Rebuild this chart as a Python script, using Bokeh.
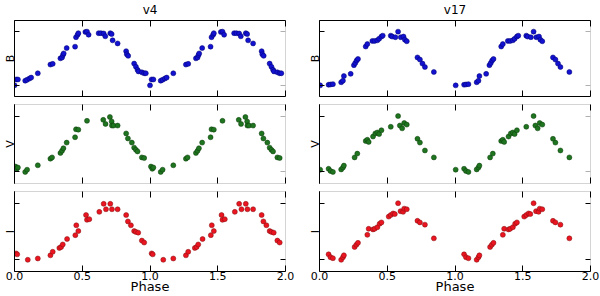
import numpy as np
from bokeh.plotting import figure
from bokeh.models import Range1d, LinearAxis, FixedTicker, PrintfTickFormatter, CustomLabelingPolicy
from bokeh.layouts import row, column
from bokeh.embed import file_html
from bokeh.resources import INLINE

FONT = "DejaVu Sans"

# ---------------- data (phase in [0,1), relative brightness: 0 = faint tick, 1 = bright tick)
v4_B_phase = [0.0, 0.012, 0.025, 0.079, 0.093, 0.11, 0.123, 0.172, 0.265, 0.282, 0.339, 0.351,
              0.358, 0.363, 0.385, 0.447, 0.454, 0.466, 0.471, 0.523, 0.535, 0.547, 0.621, 0.638,
              0.658, 0.67, 0.707, 0.717, 0.724, 0.761, 0.824, 0.829, 0.839, 0.883, 0.896, 0.908,
              0.915, 0.94, 0.957, 0.969]
v4_B = [0.0, 0.11, 0.11, 0.087, 0.104, 0.127, 0.145, 0.225, 0.387, 0.40, 0.503, 0.52,
        0.566, 0.595, 0.694, 0.72, 0.896, 0.942, 0.971, 0.994, 1.0, 0.942, 0.971, 0.971,
        0.965, 0.913, 0.971, 0.954, 0.838, 0.78, 0.636, 0.578, 0.549, 0.405, 0.347, 0.289,
        0.26, 0.243, 0.225, 0.225]

v4_V_phase = [0.007, 0.017, 0.025, 0.079, 0.093, 0.172, 0.265, 0.277, 0.339, 0.351, 0.361, 0.385,
              0.447, 0.454, 0.471, 0.535, 0.655, 0.672, 0.704, 0.717, 0.719, 0.731, 0.761, 0.824,
              0.837, 0.866, 0.883, 0.896, 0.908, 0.94, 0.957]
v4_V = [0.096, 0.056, 0.079, 0.0, 0.04, 0.119, 0.237, 0.26, 0.339, 0.379, 0.424, 0.525,
        0.621, 0.763, 0.757, 0.915, 0.932, 0.859, 0.983, 0.904, 0.83, 0.83, 0.83, 0.689,
        0.599, 0.525, 0.435, 0.395, 0.367, 0.26, 0.249]

v4_I_phase = [0.012, 0.02, 0.098, 0.172, 0.265, 0.282, 0.331, 0.344, 0.356, 0.388, 0.449, 0.456,
              0.471, 0.528, 0.535, 0.552, 0.626, 0.658, 0.675, 0.707, 0.719, 0.761, 0.824, 0.837,
              0.859, 0.883, 0.896, 0.913, 0.94, 0.957]
v4_I = [0.113, 0.096, 0.0, 0.023, 0.079, 0.141, 0.209, 0.226, 0.271, 0.367, 0.435, 0.61,
        0.508, 0.791, 0.706, 0.718, 0.847, 0.989, 0.893, 0.989, 0.893, 0.893, 0.791, 0.678,
        0.61, 0.508, 0.492, 0.48, 0.339, 0.305]

v17_B_phase = [0.005, 0.067, 0.081, 0.099, 0.16, 0.173, 0.18, 0.23, 0.254, 0.264, 0.274, 0.284,
               0.341, 0.353, 0.39, 0.407, 0.427, 0.44, 0.457, 0.467, 0.526, 0.536, 0.56, 0.58,
               0.6, 0.62, 0.63, 0.644, 0.723, 0.741, 0.76, 0.778, 0.844]
v17_B = [0.0, 0.012, 0.017, 0.023, 0.058, 0.087, 0.173, 0.214, 0.376, 0.416, 0.462, 0.491,
         0.723, 0.769, 0.827, 0.827, 0.838, 0.867, 0.908, 0.925, 0.925, 0.908, 0.896, 1.0,
         0.896, 0.908, 0.85, 0.821, 0.52, 0.48, 0.405, 0.341, 0.249]

v17_V_phase = [0.005, 0.067, 0.081, 0.099, 0.16, 0.173, 0.18, 0.259, 0.279, 0.341, 0.353, 0.363,
               0.395, 0.412, 0.427, 0.44, 0.457, 0.526, 0.58, 0.593, 0.61, 0.625, 0.644, 0.723,
               0.741, 0.778, 0.844]
v17_V = [0.04, 0.056, 0.017, 0.0, 0.045, 0.079, 0.113, 0.26, 0.328, 0.554, 0.576, 0.537,
         0.633, 0.689, 0.706, 0.678, 0.746, 0.808, 1.0, 0.831, 0.78, 0.876, 0.847, 0.593,
         0.525, 0.384, 0.26]

v17_I_phase = [0.067, 0.081, 0.099, 0.16, 0.173, 0.18, 0.259, 0.272, 0.284, 0.353, 0.363, 0.395,
               0.407, 0.427, 0.444, 0.457, 0.511, 0.526, 0.543, 0.556, 0.58, 0.598, 0.617, 0.625,
               0.644, 0.723, 0.741, 0.778, 0.844]
v17_I = [0.096, 0.045, 0.028, 0.0, 0.045, 0.079, 0.226, 0.266, 0.299, 0.441, 0.548, 0.537,
         0.548, 0.576, 0.638, 0.661, 0.763, 0.791, 0.819, 0.808, 1.0, 0.859, 0.847, 0.904,
         0.893, 0.689, 0.661, 0.621, 0.379]

x_ticks = [0.0, 0.5, 1.0, 1.5, 2.0]
y_ticks = [0.0, 1.0]

COLORS = {"B": ("#1212d0", "#000070"), "V": ("#1f741f", "#0a3a0a"), "I": ("#ea1520", "#801010")}
GRAY = "#d4d4d4"

HIDE = "for (const i of indices) { indices.unset(i) }\nreturn indices"


def no_labels(ax):
    ax.major_label_policy = CustomLabelingPolicy(code=HIDE)
    ax.major_label_text_font_size = "1px"
    ax.major_label_standoff = 0
    ax.minor_tick_in = 0
    ax.minor_tick_out = 0


def panel(phase, mag, band, w, h, bl, br, bt, bb, pos, title=None):
    p = figure(width=w, height=h, x_range=Range1d(0, 2), y_range=Range1d(-0.207, 1.207),
               output_backend="svg", toolbar_location=None, tools="",
               x_axis_location=None, y_axis_location=None,
               min_border_left=bl, min_border_right=br, min_border_top=bt, min_border_bottom=bb)
    p.xgrid.visible = False
    p.ygrid.visible = False
    p.outline_line_color = GRAY
    p.background_fill_color = "white"
    p.border_fill_color = "white"

    # left y axis
    yl = LinearAxis(ticker=FixedTicker(ticks=y_ticks), axis_label=band)
    no_labels(yl)
    yl.major_tick_in = 5
    yl.major_tick_out = 0
    yl.axis_line_color = "black"
    yl.axis_label_standoff = -6
    yl.axis_label_text_font = FONT
    yl.axis_label_text_font_size = "11px"
    yl.axis_label_text_font_style = "normal"
    yl.axis_label_text_color = "black"
    p.add_layout(yl, "left")

    # right y axis
    yr = LinearAxis(ticker=FixedTicker(ticks=y_ticks))
    no_labels(yr)
    yr.major_tick_in = 5
    yr.major_tick_out = 0
    yr.axis_line_color = None
    yr.major_tick_line_color = "black" if pos == "bottom" else "#b0b0b0"
    p.add_layout(yr, "right")

    # top x axis
    xa = LinearAxis(ticker=FixedTicker(ticks=x_ticks))
    no_labels(xa)
    xa.major_tick_in = 6
    xa.major_tick_out = 0
    xa.axis_line_color = "black" if pos == "top" else None
    p.add_layout(xa, "above")

    # bottom x axis
    xb = LinearAxis(ticker=FixedTicker(ticks=x_ticks))
    xb.major_tick_in = 6
    xb.major_tick_out = 0
    xb.minor_tick_in = 0
    xb.minor_tick_out = 0
    xb.axis_line_color = "black" if pos in ("top", "bottom") else None
    if pos == "bottom":
        xb.formatter = PrintfTickFormatter(format="%.1f")
        xb.major_label_text_font = FONT
        xb.major_label_text_font_size = "11px"
        xb.major_label_text_color = "black"
        xb.major_label_standoff = 0
        xb.axis_label = "Phase"
        xb.axis_label_text_font = FONT
        xb.axis_label_text_font_size = "13px"
        xb.axis_label_text_font_style = "normal"
        xb.axis_label_text_color = "black"
        xb.axis_label_standoff = -4
    else:
        no_labels(xb)
    p.add_layout(xb, "below")

    if title is not None:
        p.title.text = title
        p.title.align = "center"
        p.title.text_font = FONT
        p.title.text_font_size = "12px"
        p.title.text_font_style = "normal"
        p.title.text_color = "black"
        p.title.standoff = 0

    ph = np.asarray(phase, dtype=float)
    mg = np.asarray(mag, dtype=float)
    x = np.concatenate([ph, ph + 1.0])
    y = np.concatenate([mg, mg])
    fc, lc = COLORS[band]
    p.scatter(x, y, size=5, marker="circle", fill_color=fc, line_color=lc, line_width=0.5)
    return p


# layout sizes (pixels)
LW, RW = 305, 295
H_TOP, H_MID, H_BOT = 100, 87, 109


def make_column(name, data, w, bl, br):
    (pB, B), (pV, V), (pI, I) = data
    top = panel(pB, B, "B", w, H_TOP, bl, br, 15, 3, "top", title=name)
    mid = panel(pV, V, "V", w, H_MID, bl, br, 3, 2, "mid")
    bot = panel(pI, I, "I", w, H_BOT, bl, br, 3, 24, "bottom")
    return column(top, mid, bot, spacing=0)


left = make_column("v4", [(v4_B_phase, v4_B), (v4_V_phase, v4_V), (v4_I_phase, v4_I)], LW, 13, 20)
right = make_column("v17", [(v17_B_phase, v17_B), (v17_V_phase, v17_V), (v17_I_phase, v17_I)], RW, 13, 10)
layout = row(left, right, spacing=0)

open("out.html", "w").write(file_html(layout, INLINE))
